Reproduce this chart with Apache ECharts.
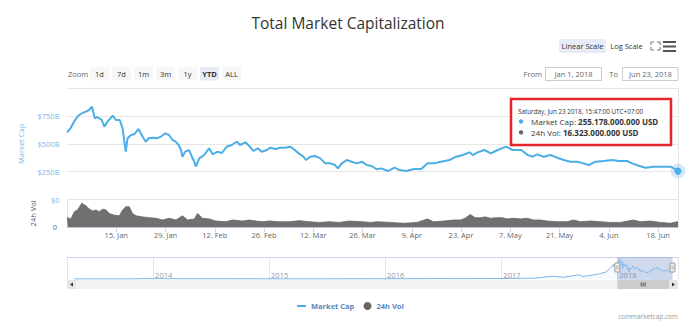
<!DOCTYPE html>
<html><head><meta charset="utf-8">
<script src="https://cdn.jsdelivr.net/npm/echarts@6/dist/echarts.min.js"></script>
<style>html,body{margin:0;padding:0;background:#fff}#c{width:696px;height:327px}</style>
</head><body><div id="c"></div>
<script>
// ---- DATA ----
// Market cap 2018 (days since Jan 1 2018, values in billions USD)
const capDays = [0,1,2,3,3.5,4.5,5.4,6.3,7.1,7.9,8.5,9.2,9.9,10.6,11.5,12.3,13,13.9,15,15.8,16.3,16.7,17.2,18.2,19.1,20.3,21.5,22.4,23.2,24.3,25.5,26.7,27.9,29,30,30.9,31.7,32.4,32.8,33.6,34.7,35.5,36.2,36.6,37.6,39,40.4,41.4,42.8,44,45.4,46.8,48.3,49.2,50.7,52,53,54.2,55.4,56.8,57.8,59.2,60.6,62,63.4,64.4,65.8,67.2,67.9,69.1,70.5,72,73.4,74.8,76.2,77,78.1,79.5,80.9,82.4,83.8,85.2,86.6,88,89.3,91.2,93.1,94.5,96.4,98.7,100.7,102.5,104.4,106.3,108.7,110.6,112.5,114.4,115.3,116.7,118.6,120.5,122.4,124.8,126.7,129.1,130.9,132.4,133.6,135.5,137.4,139.3,141.2,143.1,145,146.8,148.3,150.2,152.5,154.9,156.8,159.2,160.6,162.5,164.4,166.7,169.1,171.5,172.9,173.6576];
const capValues = [605,640,700,745,760,780,790,805,835,730,740,730,715,655,700,730,754,715,715,640,520,430,550,580,586,634,565,520,550,556,550,565,595,580,535,520,490,445,385,430,445,385,340,295,370,400,460,406,430,418,475,490,520,490,514,475,436,460,430,445,466,454,466,466,475,454,415,385,355,385,391,370,325,325,310,280,325,355,340,325,340,310,301,272,280,256,286,265,256,274,274,325,325,340,355,385,400,424,400,424,445,415,445,475,445,445,400,385,406,385,400,376,355,340,340,325,310,340,346,355,346,346,325,304,286,295,295,295,274,255.178];
// 24h volume 2018 (days since Jan 1 2018, billions USD)
const volDays = [0,0.2,1.1,2.1,3,4.2,5.4,6.3,7.3,8.2,9.2,10.1,11.1,12,13.4,14.9,15.8,16.7,17.7,18.6,19.6,21.5,23.4,25.3,27.2,29,31,32.8,34.3,36.2,37.1,38.5,40.4,42.3,45.1,47,49.9,51.8,53.7,55.6,57.5,60.3,63.2,66,68.8,71.7,74.5,77.4,80.2,84,86.3,88.2,91.9,95.7,99.5,102.4,104.2,107.1,109.9,111.8,113.2,114.6,116,117.5,118.9,120.3,122.2,123.7,125.1,127,128.9,130.8,132.6,134.5,136.5,139.3,142.1,144,145.9,148.8,151.6,154.4,157.3,161,163,165.8,168.6,171.5,173.4,173.6576];
const volValues = [27,27.6,24,45,50,69,62,53,47,50,45,52,50,40,35,33,50,59,59,40,33,30,27.6,26,21,26,21,33,21,24,40,26,24,18,16,21,18,21,18,16,18,16,16,19,16,14,16,14,18,16,14,16,14,11.5,14,24,16,18,21,21,26,37,27.6,27.6,30,26,27.6,27.6,24,26,24,26,21,21,18,16,16,21,16,18,16,14,14,21,16,18,14,11.5,16,16.323];
// Navigator history before 2018 (billions USD)
const historyDates = ['2013-04-28','2013-07-01','2013-10-01','2013-11-15','2013-12-01','2013-12-20','2014-01-05','2014-02-15','2014-04-01','2014-06-01','2014-09-01','2014-12-01','2015-01-15','2015-06-01','2015-11-05','2016-01-01','2016-06-18','2016-09-01','2016-12-01','2017-01-01','2017-03-01','2017-04-15','2017-05-20','2017-06-12','2017-07-16','2017-08-15','2017-09-01','2017-09-15','2017-10-20','2017-11-08','2017-11-25','2017-12-08','2017-12-20','2017-12-22','2017-12-31'];
const historyValues = [1.5,1.2,1.8,5,14,8,11,9,6,8,6,5,3.5,3.5,6,7,12,10,13,18,22,30,80,110,70,130,170,100,170,220,280,430,600,480,570];
const monthNames = ['Jan','Feb','Mar','Apr','May','Jun','Jul','Aug','Sep','Oct','Nov','Dec'];
const zoomButtons = ['1d','7d','1m','3m','1y','YTD','ALL'];

// ---- BUILD ----
const DAY = 86400000;
const t0 = Date.UTC(2018,0,1);
const toT = d => t0 + d*DAY;
const capData = capDays.map((d,i)=>[toT(d), capValues[i]]);
const volData = volDays.map((d,i)=>[toT(d), volValues[i]]);
const tEnd = toT(capDays[capDays.length-1]);
const navData = historyDates.map((s,i)=>{const p=s.split('-');return [Date.UTC(+p[0],+p[1]-1,+p[2]), historyValues[i]];}).concat(capData);
const lastCap = capValues[capValues.length-1];
const lastVol = volValues[volValues.length-1];
const fmtUSD = b => Math.round(b*1e9).toString().replace(/\B(?=(\d{3})+(?!\d))/g,'.') + ' USD';

const FONT = 'Open Sans';
const BLUE = '#4dade6';
const f = (s,w) => (w?w+' ':'')+s+'px "'+FONT+'"';
const mctx = document.createElement('canvas').getContext('2d');
const measure = (t,font) => { mctx.font = font; return mctx.measureText(t).width; };

const chart = echarts.init(document.getElementById('c'), null, {renderer:'svg'});

const uiGraphics = [];
// top-right scale buttons
uiGraphics.push({type:'rect', shape:{x:559,y:39,width:47,height:14,r:2}, style:{fill:'#e6ebf5'}});
uiGraphics.push({type:'text', x:582.5, y:46, style:{text:'Linear Scale', font:f(7.5), fill:'#333', align:'center', verticalAlign:'middle'}});
uiGraphics.push({type:'text', x:626.5, y:46, style:{text:'Log Scale', font:f(7.5), fill:'#333', align:'center', verticalAlign:'middle'}});
// fullscreen icon
[[651,42,1,1],[660,42,-1,1],[651,50,1,-1],[660,50,-1,-1]].forEach(([x,y,sx,sy])=>{
  uiGraphics.push({type:'polyline', shape:{points:[[x,y+3*sy],[x,y],[x+3*sx,y]]}, style:{stroke:'#777', lineWidth:1, fill:null}});
});
// hamburger
[41,45.5,50].forEach(y=>uiGraphics.push({type:'rect', shape:{x:663,y:y,width:13,height:2}, style:{fill:'#555'}}));
// zoom row
uiGraphics.push({type:'text', x:68, y:74, style:{text:'Zoom', font:f(7.5), fill:'#666', verticalAlign:'middle'}});
zoomButtons.forEach((b,i)=>{
  const x = 90 + i*22;
  uiGraphics.push({type:'rect', shape:{x:x,y:67,width:19,height:13.5,r:1}, style:{fill: b==='YTD' ? '#e6ebf5' : '#f7f7f7'}});
  uiGraphics.push({type:'text', x:x+9.5, y:74, style:{text:b, font:f(7.5, b==='YTD'?'bold':''), fill:'#333', align:'center', verticalAlign:'middle'}});
});
// From / To
uiGraphics.push({type:'text', x:542, y:74, style:{text:'From', font:f(7.5), fill:'#666', align:'right', verticalAlign:'middle'}});
uiGraphics.push({type:'rect', shape:{x:545.5,y:67.5,width:56,height:13}, style:{fill:'#fff', stroke:'#ccc', lineWidth:1}});
uiGraphics.push({type:'text', x:573.5, y:74, style:{text:'Jan 1, 2018', font:f(7.5), fill:'#666', align:'center', verticalAlign:'middle'}});
uiGraphics.push({type:'text', x:618, y:74, style:{text:'To', font:f(7.5), fill:'#666', align:'right', verticalAlign:'middle'}});
uiGraphics.push({type:'rect', shape:{x:622.5,y:67.5,width:55.5,height:13}, style:{fill:'#fff', stroke:'#ccc', lineWidth:1}});
uiGraphics.push({type:'text', x:650.5, y:74, style:{text:'Jun 23, 2018', font:f(7.5), fill:'#666', align:'center', verticalAlign:'middle'}});
// tooltip (with red annotation border)
const lab1 = 'Market Cap: ', lab2 = '24h Vol: ';
const w1 = measure(lab1, f(8)), w2 = measure(lab2, f(8));
uiGraphics.push({type:'group', x:511, y:99, z:100, children:[
  {type:'rect', shape:{x:0,y:0,width:160,height:46}, style:{fill:'#fff', stroke:'#e3262b', lineWidth:2.5}},
  {type:'text', x:7, y:12.5, style:{text:'Saturday, Jun 23 2018, 15:47:00 UTC+07:00', font:f(6.3), fill:'#333', verticalAlign:'middle'}},
  {type:'circle', shape:{cx:10,cy:22.5,r:2.2}, style:{fill:BLUE}},
  {type:'text', x:20, y:22.5, style:{text:lab1, font:f(8), fill:'#333', verticalAlign:'middle'}},
  {type:'text', x:20+w1, y:22.5, style:{text:fmtUSD(lastCap), font:f(8,'bold'), fill:'#333', verticalAlign:'middle'}},
  {type:'circle', shape:{cx:10,cy:33.4,r:2.2}, style:{fill:'#666'}},
  {type:'text', x:20, y:33.4, style:{text:lab2, font:f(8), fill:'#333', verticalAlign:'middle'}},
  {type:'text', x:20+w2, y:33.4, style:{text:fmtUSD(lastVol), font:f(8,'bold'), fill:'#333', verticalAlign:'middle'}}
]});
// credits
uiGraphics.push({type:'text', x:678, y:316, style:{text:'coinmarketcap.com', font:f(6.5), fill:'#999', align:'right', verticalAlign:'middle'}});

const navMin = Date.UTC(2013,3,5), navMax = Date.UTC(2018,6,11);
const legendText = {fontSize:7.5, fontWeight:'bold', color:'#5a86bd', fontFamily:FONT};

chart.setOption({
  animation:false,
  textStyle:{fontFamily:FONT},
  title:{text:'Total Market Capitalization', left:'center', top:10, textStyle:{fontSize:15.5, fontWeight:'normal', color:'#333', fontFamily:FONT}},
  legend:[
    {top:297, left:292, itemWidth:9, itemHeight:2, icon:'rect', selectedMode:false, textStyle:legendText, data:['Market Cap']},
    {top:297, left:358.5, itemWidth:8, itemHeight:8, icon:'circle', selectedMode:false, textStyle:legendText, data:['24h Vol']}
  ],
  grid:[
    {left:67, top:88.3, width:611, height:111.2},
    {left:67, top:199.5, width:611, height:27.8},
    {left:67, top:257, width:611, height:23}
  ],
  xAxis:[
    {gridIndex:0, type:'value', min:t0, max:tEnd, interval:14*DAY, axisLine:{show:false}, axisTick:{show:false}, axisLabel:{show:false}, splitLine:{show:false}},
    {gridIndex:1, type:'value', min:t0, max:tEnd, interval:14*DAY, axisLine:{show:true, lineStyle:{color:'#ccd6eb'}},
      axisTick:{show:true, length:5, lineStyle:{color:'#ccd6eb'}}, splitLine:{show:false},
      axisLabel:{show:true, showMinLabel:false, showMaxLabel:false, margin:4, fontSize:7.5, color:'#666', fontFamily:FONT,
        formatter:v=>{const d=new Date(v);return d.getUTCDate()+'. '+monthNames[d.getUTCMonth()];}}},
    {gridIndex:2, type:'time', min:navMin, max:navMax, splitNumber:5, axisLine:{show:false}, axisTick:{show:false},
      splitLine:{show:true, lineStyle:{color:'#e6e6e6'}},
      axisLabel:{show:true, inside:true, margin:1, align:'left', verticalAlign:'bottom', padding:[0,0,0,2], fontSize:7.5, color:'#999', fontFamily:FONT, formatter:'{yyyy}'}},
    {gridIndex:2, type:'value', position:'top', axisLine:{show:true, lineStyle:{color:'#ccd6eb'}}, axisTick:{show:false}, axisLabel:{show:false}, splitLine:{show:false}}
  ],
  yAxis:[
    {gridIndex:0, type:'value', min:0, max:1000, interval:250, axisLine:{show:false}, axisTick:{show:false},
      splitLine:{show:true, lineStyle:{color:'#e6e6e6'}},
      axisLabel:{showMaxLabel:false, margin:7.5, fontSize:7.5, color:'#7cb5ec', fontFamily:FONT, verticalAlign:'middle', padding:[0,0,7,0], formatter:v=> v===0 ? '$0' : '$'+v+'B'},
      name:'Market Cap', nameLocation:'middle', nameGap:42, nameRotate:90, nameTextStyle:{fontSize:7.5, color:'#7cb5ec', fontFamily:FONT}},
    {gridIndex:1, type:'value', min:0, max:80, interval:80, axisLine:{show:true, lineStyle:{color:'#e6e6e6'}}, axisTick:{show:false},
      splitLine:{show:false},
      axisLabel:{showMaxLabel:false, margin:10, fontSize:7.5, color:'#666', fontFamily:FONT, verticalAlign:'middle', padding:[0,0,7,0], formatter:v=>String(v)},
      name:'24h Vol', nameLocation:'middle', nameGap:30, nameRotate:90, nameTextStyle:{fontSize:7.5, color:'#555', fontFamily:FONT}},
    {gridIndex:2, type:'value', min:-45, max:905, show:false},
    {gridIndex:0, type:'value', position:'right', min:0, max:1000, axisLine:{show:true, lineStyle:{color:'#e6e6e6'}}, axisTick:{show:false}, axisLabel:{show:false}, splitLine:{show:false}},
    {gridIndex:1, type:'value', position:'right', min:0, max:80, axisLine:{show:true, lineStyle:{color:'#e6e6e6'}}, axisTick:{show:false}, axisLabel:{show:false}, splitLine:{show:false}}
  ],
  series:[
    {name:'Market Cap', type:'line', xAxisIndex:0, yAxisIndex:0, data:capData, symbol:'none', showSymbol:false,
      lineStyle:{color:BLUE, width:2}, itemStyle:{color:BLUE},
      markPoint:{silent:true, label:{show:false}, data:[
        {coord:[tEnd,lastCap], symbol:'circle', symbolSize:15, itemStyle:{color:'rgba(77,173,230,0.25)'}},
        {coord:[tEnd,lastCap], symbol:'circle', symbolSize:7, itemStyle:{color:BLUE}}
      ]}},
    {name:'24h Vol', type:'line', xAxisIndex:1, yAxisIndex:1, data:volData, symbol:'none', showSymbol:false,
      lineStyle:{color:'#666', width:0.8}, itemStyle:{color:'#666'}, areaStyle:{color:'#707070', opacity:1}},
    {name:'Navigator', type:'line', xAxisIndex:2, yAxisIndex:2, data:navData, symbol:'none', showSymbol:false,
      lineStyle:{color:'#7cb5ec', width:1}, areaStyle:{color:'rgba(124,181,236,0.1)'},
      markArea:{silent:true, itemStyle:{color:'rgba(102,133,194,0.3)'}, data:[[{xAxis:t0},{xAxis:tEnd}]]}}
  ],
  graphic:uiGraphics
});

// navigator handles and scrollbar positioned from the nav axis scale
const p0 = chart.convertToPixel({xAxisIndex:2}, t0);
const p1 = chart.convertToPixel({xAxisIndex:2}, tEnd);
const g = uiGraphics.slice();
g.push({type:'rect', shape:{x:67,y:280,width:611,height:9}, style:{fill:'#f2f2f2'}});
g.push({type:'rect', shape:{x:67,y:280,width:9,height:9}, style:{fill:'#e6e6e6'}});
g.push({type:'polygon', shape:{points:[[73,282.5],[70,284.5],[73,286.5]]}, style:{fill:'#333'}});
g.push({type:'rect', shape:{x:669,y:280,width:9,height:9}, style:{fill:'#e6e6e6'}});
g.push({type:'polygon', shape:{points:[[672,282.5],[675,284.5],[672,286.5]]}, style:{fill:'#333'}});
g.push({type:'rect', shape:{x:p0,y:280,width:Math.min(p1,669)-p0,height:9}, style:{fill:'#cccccc'}});
const gc = (p0+Math.min(p1,669))/2;
[-2,0,2].forEach(dx=>g.push({type:'line', shape:{x1:gc+dx,y1:282.5,x2:gc+dx,y2:286.5}, style:{stroke:'#333', lineWidth:0.8}}));
[p0,p1].forEach(p=>{
  g.push({type:'rect', z:50, shape:{x:p-2.5,y:263,width:5,height:9,r:1}, style:{fill:'#f2f2f2', stroke:'#999', lineWidth:1}});
  g.push({type:'line', z:51, shape:{x1:p-0.5,y1:265.5,x2:p-0.5,y2:269.5}, style:{stroke:'#999', lineWidth:0.6}});
  g.push({type:'line', z:51, shape:{x1:p+0.7,y1:265.5,x2:p+0.7,y2:269.5}, style:{stroke:'#999', lineWidth:0.6}});
});
chart.setOption({graphic:g}, {replaceMerge:['graphic']});
</script></body></html>
